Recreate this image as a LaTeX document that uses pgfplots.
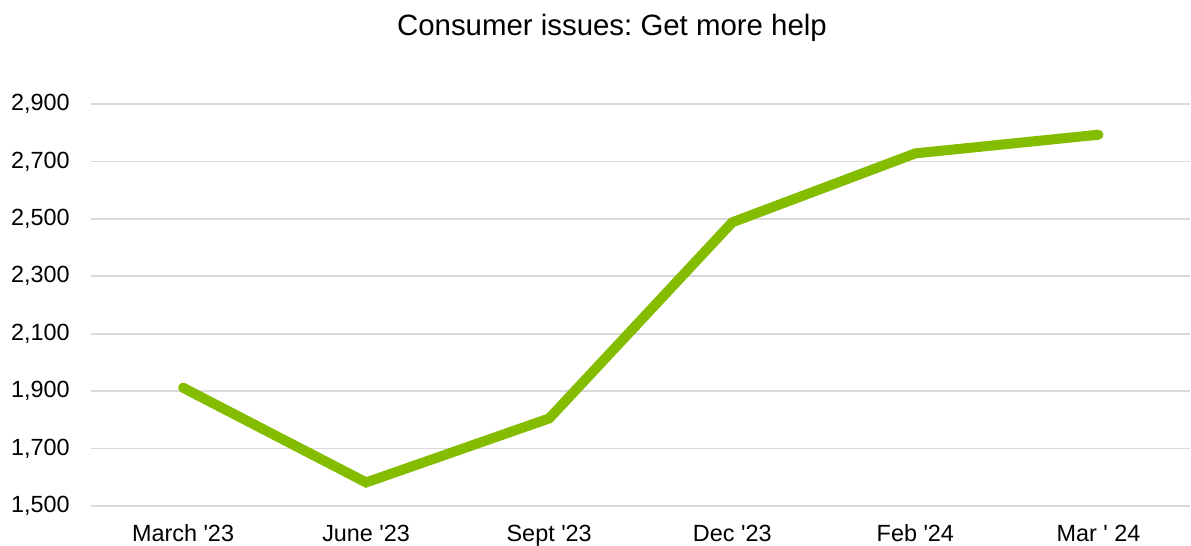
\documentclass[border=0pt]{standalone}
\usepackage{pgfplots}
\pgfplotsset{compat=1.18}
\usepackage{fontspec}
\setmainfont{Liberation Sans}
\frenchspacing
\definecolor{linegreen}{HTML}{84BD00}
\definecolor{gridgray}{HTML}{D9D9D9}
\newcommand{\q}{\textquotesingle}

\begin{document}
\begin{tikzpicture}[x=1pt,y=1pt]
\path[use as bounding box] (0,0) rectangle (595.5,273);
\node[anchor=base, font=\fontsize{14.7}{17}\selectfont] at (306,255) {Consumer issues: Get more help};
\begin{axis}[
    at={(45.75pt,20pt)}, anchor=south west,
    scale only axis,
    width=549.25pt, height=201pt,
    xmin=-0.5, xmax=5.5,
    ymin=1500, ymax=2900,
    ytick={1500,1700,...,2900},
    xtick={0,1,2,3,4,5},
    xticklabels={March \q23, June \q23, Sept \q23, Dec \q23, Feb \q24, Mar \q\ 24},
    axis line style={draw=none},
    major tick length=0pt,
    ymajorgrids,
    grid style={gridgray, line width=0.9pt},
    ticklabel style={font=\fontsize{11.7}{14}\selectfont},
    xticklabel style={anchor=base, yshift=-18pt},
    yticklabel style={anchor=east, inner sep=0pt, xshift=-10.75pt},
    /pgf/number format/.cd, 1000 sep={,}, assume math mode=true,
    clip=false,
  ]
  \addplot[linegreen, line width=5pt, line cap=round] coordinates {
    (0,1912) (1,1582) (2,1805) (3,2488) (4,2728) (5,2793)
  };
\end{axis}
\end{tikzpicture}
\end{document}
